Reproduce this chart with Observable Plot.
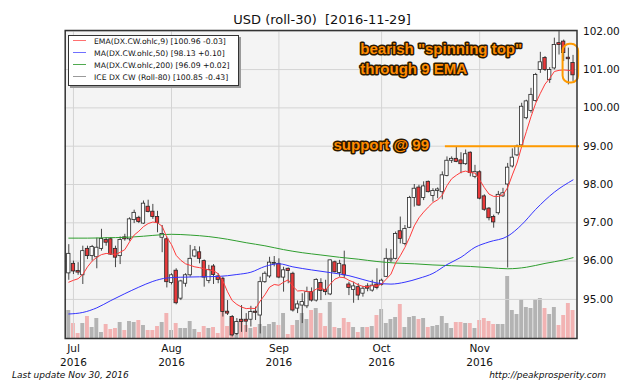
<!DOCTYPE html>
<html><head><meta charset="utf-8">
<script src="https://cdn.jsdelivr.net/npm/d3@7"></script>
<script src="https://cdn.jsdelivr.net/npm/@observablehq/plot@0.6"></script>
<style>
body{margin:0;background:#fff;font-family:"DejaVu Sans",sans-serif;color:#111;}
#wrap{position:relative;width:640px;height:384px;overflow:hidden;}
#wrap svg{position:absolute;left:0;top:0;}
.title{position:absolute;top:12px;left:0;width:644px;text-align:center;font-size:13px;line-height:16px;white-space:pre;}
.legend{position:absolute;left:68px;top:35px;width:171px;height:51px;background:#fff;border:1px solid #333;box-shadow:2px 2px 0 #9a9a9a;box-sizing:border-box;font-size:7.7px;}
.legend .row{position:absolute;left:4px;height:12px;line-height:12px;white-space:nowrap;}
.legend .sw{display:inline-block;width:13px;height:0;border-top:1.2px solid;vertical-align:middle;margin-right:8px;margin-top:-2px;}
.foot{position:absolute;top:369px;font-size:9px;font-style:italic;line-height:12px;}
</style></head>
<body><div id="wrap">
<div class="title">USD (roll-30)  [2016-11-29]</div>
</div>
<script>
// ---- data (trading-day index 0 = Jun 30 2016 ... 108 = Nov 29 2016) ----
const open  = [95.68,95.93,95.74,95.63,96.32,96.13,96.10,96.32,96.55,96.57,96.32,96.13,96.62,96.57,97.07,97.13,96.98,97.42,97.29,97.15,96.61,96.57,95.43,95.75,95.02,95.41,95.63,96.12,96.23,96.00,95.48,95.86,95.60,95.54,94.68,94.54,94.10,94.47,94.47,94.47,94.68,94.58,95.45,95.60,95.93,95.93,95.57,95.80,95.67,94.76,94.84,94.82,95.19,94.97,95.43,95.25,95.13,95.97,95.69,95.89,95.39,95.25,95.32,95.15,95.34,95.23,95.39,95.38,95.59,96.02,96.06,96.78,96.45,96.87,97.65,97.92,97.65,98.07,97.70,97.83,97.80,98.22,98.62,98.67,98.63,98.53,98.83,98.20,98.32,97.69,97.37,97.15,97.25,97.69,98.00,98.47,98.76,99.02,99.73,99.92,100.18,100.99,101.30,100.73,101.03,101.69,101.73,101.31,101.17];
const high  = [96.43,96.00,95.96,96.39,96.39,96.41,96.60,96.83,96.61,96.61,96.39,96.63,96.70,97.13,97.33,97.17,97.57,97.59,97.48,97.30,96.93,96.63,95.67,95.80,95.50,95.67,96.41,96.38,96.37,96.03,95.89,95.91,95.67,95.58,94.97,94.58,94.50,94.84,94.63,94.82,94.80,95.58,95.72,96.10,96.12,96.06,95.84,95.82,95.71,94.96,95.15,95.32,95.30,95.54,95.54,95.50,96.03,96.00,96.02,96.26,95.45,95.45,95.41,95.34,95.41,95.50,95.80,95.53,96.32,96.30,96.76,97.15,96.93,97.69,98.00,97.98,98.07,98.09,97.89,97.91,98.33,98.72,98.72,98.97,98.83,98.90,98.85,98.50,98.36,97.73,97.40,97.20,97.82,97.90,98.55,98.93,99.03,100.12,100.20,100.51,100.90,101.45,101.34,101.05,101.82,101.99,101.77,101.56,101.37];
const low   = [95.50,95.65,95.63,95.39,96.04,96.00,95.80,96.26,96.39,96.15,95.83,95.91,96.52,96.52,96.98,96.98,96.96,97.26,97.09,96.74,96.22,95.30,95.38,94.86,94.97,95.32,95.58,96.09,95.93,95.32,95.41,95.39,95.41,94.54,94.58,94.02,94.06,94.14,94.14,94.28,94.45,94.10,95.42,95.55,95.85,95.54,95.19,95.41,94.67,94.63,94.37,94.76,94.93,94.93,94.97,95.10,95.10,95.69,95.58,95.54,95.10,94.90,94.97,95.06,95.20,95.19,95.25,95.35,95.57,95.96,96.03,96.45,96.40,96.85,97.41,97.43,97.58,97.78,97.54,97.63,97.60,98.20,98.55,98.57,98.28,98.50,98.20,98.15,97.60,97.30,97.05,96.86,97.20,97.66,95.82,98.43,98.73,98.99,99.69,99.86,100.15,100.90,100.95,100.64,100.99,101.38,101.21,100.60,100.69];
const close = [96.19,95.73,95.70,96.26,96.13,96.37,96.35,96.58,96.48,96.17,96.09,96.55,96.57,97.09,97.26,97.02,97.50,97.28,97.15,97.00,96.71,95.45,95.63,94.90,95.47,95.63,96.06,96.28,96.06,95.57,95.77,95.64,95.51,94.67,94.63,94.06,94.41,94.41,94.42,94.67,94.65,95.45,95.67,95.96,95.95,95.57,95.76,95.74,94.71,94.87,94.93,95.19,94.97,95.51,95.22,95.19,96.02,95.71,95.93,95.63,95.30,95.34,95.10,95.28,95.28,95.36,95.30,95.49,96.06,96.06,96.71,96.58,96.84,97.65,97.89,97.45,97.95,97.80,97.83,97.87,98.24,98.62,98.67,98.59,98.53,98.79,98.30,98.33,97.63,97.34,97.12,97.01,97.73,97.77,98.44,98.70,98.99,100.03,100.17,100.34,100.86,101.19,100.99,100.99,101.64,101.64,101.43,101.27,100.85];
// relative volume
const volume = [28,15,5,15,22,11,20,6,14,9,10,16,8,17,16,18,13,8,8,12,16,25,8,15,10,10,17,9,6,12,10,11,5,26,12,20,16,17,13,10,11,14,12,14,16,13,25,4,13,18,25,19,28,30,25,12,36,11,10,20,16,11,6,11,11,12,23,29,15,19,21,34,11,21,22,19,20,11,12,13,22,15,10,16,16,15,15,10,18,20,17,14,14,14,62,28,24,39,31,30,39,40,30,24,31,13,23,35,28];
const ema9 = [95.45,95.50,95.54,95.65,95.85,96.00,96.10,96.17,96.20,96.19,96.17,96.23,96.30,96.50,96.68,96.78,96.90,96.98,97.02,97.00,96.91,96.62,96.43,96.15,96.02,95.93,95.89,95.85,95.83,95.80,95.77,95.75,95.67,95.48,95.20,94.97,94.87,94.80,94.76,94.77,94.76,94.96,95.12,95.32,95.39,95.37,95.45,95.51,95.34,95.22,95.23,95.21,95.19,95.27,95.30,95.24,95.40,95.53,95.58,95.57,95.50,95.45,95.38,95.34,95.33,95.36,95.35,95.40,95.53,95.66,95.95,96.14,96.36,96.62,96.92,97.13,97.28,97.41,97.53,97.60,97.72,97.97,98.15,98.24,98.32,98.35,98.31,98.30,98.12,97.92,97.75,97.69,97.69,97.73,97.92,98.25,98.56,98.99,99.38,99.77,100.12,100.38,100.62,100.77,100.95,100.98,100.99,100.98,100.96];
const ma50Idx = [0,3,6,9,12,15,18,21,24,28,32,36,39,42,45,48,52,56,60,63,66,69,72,75,78,81,84,87,90,94,97,100,104,108];
const ma50Val = [94.62,94.66,94.78,94.97,95.15,95.32,95.47,95.56,95.58,95.59,95.60,95.65,95.71,95.86,95.93,95.85,95.77,95.70,95.62,95.52,95.43,95.40,95.45,95.55,95.68,95.91,96.10,96.36,96.50,96.65,96.95,97.35,97.80,98.12];
const ma200Idx = [0,4,8,12,16,20,22,26,30,34,38,42,46,50,54,58,62,66,70,74,78,82,86,90,94,98,102,106,108];
const ma200Val = [96.60,96.60,96.61,96.62,96.65,96.69,96.70,96.68,96.64,96.57,96.48,96.40,96.30,96.22,96.16,96.10,96.05,95.99,95.95,95.93,95.90,95.88,95.86,95.83,95.80,95.84,95.94,96.03,96.09];
const priceTicks = [95,96,97,98,99,100,101,102];
const monthTicks = [1,22,45,67,88];
const monthLabels = ["Jul\n2016","Aug\n2016","Sep\n2016","Oct\n2016","Nov\n2016"];
const legendLabels = ["EMA(DX.CW.ohlc,9) [100.96 -0.03]","MA(DX.CW.ohlc,50) [98.13 +0.10]","MA(DX.CW.ohlc,200) [96.09 +0.02]","ICE DX CW (Roll-80) [100.85 -0.43]"];
// annotations (data units)
const noteText = ['bearish "spinning top"','through 9 EMA','support @ 99'];
const noteX = [62.45,62.45,56.7];
const noteY = [101.54,101.02,99.03];
const supportLevel = 99;
const supportFrom = 80.66, supportTo = 109.4;
const boxX = [105.87,109.2], boxY = [100.65,101.66];

// ---- styling ----
const W = 640, H = 384;
const mg = {marginTop:30, marginRight:63.5, marginBottom:46, marginLeft:64.7};
const xDom = [-0.77,108.85];
const yDom = [93.98,102.02];
const RED = "#e8393a", ORANGE = "#ff9a00";
const bars = close.map((c,i)=>({i, open:open[i], high:high[i], low:low[i], close:c, volume:volume[i], up:c>=open[i]}));

const volPlot = Plot.plot({
  width:W, height:H, ...mg,
  x:{domain:xDom, axis:null},
  y:{domain:[0,62], range:[338,276], axis:null},
  style:{background:"transparent"},
  marks:[
    Plot.frame({fill:"#f4f4f4", stroke:null}),
    Plot.rect(bars,{x1:d=>d.i-0.42, x2:d=>d.i+0.42, y1:0, y2:"volume", fill:d=>d.up?"#b3b3b3":"#f2b3b3"})
  ]
});

const colors = ["#ff3b3b","#3535ff","#2f9e2f"];
const pricePlot = Plot.plot({
  width:W, height:H, ...mg,
  x:{domain:xDom},
  y:{domain:yDom},
  style:{background:"transparent", fontFamily:"DejaVu Sans", fontSize:"10.5px", color:"#111"},
  marks:[
    Plot.gridY(priceTicks,{stroke:"#d4d4d4", strokeOpacity:1}),
    Plot.gridX(monthTicks,{stroke:"#d4d4d4", strokeOpacity:1}),
    Plot.ruleX(bars,{x:"i", y1:"low", y2:"high", stroke:"#333", strokeWidth:0.9}),
    Plot.rect(bars,{x1:d=>d.i-0.36, x2:d=>d.i+0.36, y1:"open", y2:"close", fill:d=>d.up?"#ffffff":RED, stroke:"#262626", strokeWidth:0.8}),
    Plot.line(ma200Val,{x:ma200Idx, y:ma200Val, stroke:colors[2], strokeWidth:1, curve:"monotone-x"}),
    Plot.line(ma50Val,{x:ma50Idx, y:ma50Val, stroke:colors[1], strokeWidth:1, curve:"monotone-x"}),
    Plot.line(ema9,{x:(d,i)=>i, y:ema9, stroke:colors[0], strokeWidth:1}),
    Plot.ruleY([supportLevel],{x1:supportFrom, x2:supportTo, stroke:ORANGE, strokeWidth:2}),
    Plot.rect([0],{x1:boxX[0], x2:boxX[1], y1:boxY[0], y2:boxY[1], rx:7, fill:"none", stroke:ORANGE, strokeWidth:2}),
    Plot.text(noteText,{x:noteX, y:noteY, text:noteText, textAnchor:"start", fontFamily:"Liberation Sans, Arial, sans-serif", fontWeight:"bold", fontSize:15, fill:"#ff8c00", stroke:"#2a1800", strokeWidth:3}),
    Plot.frame({stroke:"#333", strokeWidth:1.5}),
    Plot.axisY(priceTicks,{anchor:"right", tickSize:0, tickPadding:6, tickFormat:d=>d.toFixed(2), label:null}),
    Plot.axisX(monthTicks,{anchor:"bottom", tickSize:0, tickPadding:4, tickFormat:d=>monthLabels[monthTicks.indexOf(d)], lineHeight:1.3, label:null})
  ]
});

const wrap = document.getElementById("wrap");
wrap.appendChild(volPlot);
wrap.appendChild(pricePlot);
wrap.appendChild(document.querySelector(".title"));

// legend
const lg = document.createElement("div");
lg.className = "legend";
const lgColors = ["#ff7070","#7070ff","#50aa50","#9a9a9a"];
legendLabels.forEach((t,k)=>{
  const r = document.createElement("div");
  r.className = "row"; r.style.top = (0 + k*12) + "px";
  const s = document.createElement("span"); s.className = "sw"; s.style.borderColor = lgColors[k];
  r.appendChild(s); r.appendChild(document.createTextNode(t));
  lg.appendChild(r);
});
wrap.appendChild(lg);

const f1 = document.createElement("div"); f1.className="foot"; f1.style.left="12px"; f1.textContent="Last update Nov 30, 2016";
const f2 = document.createElement("div"); f2.className="foot"; f2.style.right="34px"; f2.textContent="http://peakprosperity.com";
wrap.appendChild(f1); wrap.appendChild(f2);
</script>
</body></html>
